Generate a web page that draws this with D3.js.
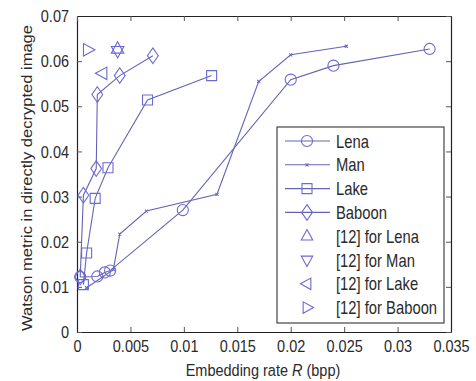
<!DOCTYPE html>
<html>
<head>
<meta charset="utf-8">
<script src="https://cdn.jsdelivr.net/npm/d3@7"></script>
<style>
  body { margin: 0; background: #fff; }
  text { font-family: "Liberation Sans", Arial, sans-serif; fill: #2a2a2a; }
  /* the source picture is stretched a little in height */
  .tall { transform-box: fill-box; transform-origin: center; transform: scaleY(1.2); }
  .long { transform-box: fill-box; transform-origin: center; transform: scaleX(1.14); }
</style>
</head>
<body>
<svg width="476" height="381"></svg>
<script>
// series
const lenaX = [0.0003, 0.0019, 0.0026, 0.0031, 0.0099, 0.02, 0.024, 0.033];
const lenaY = [0.0122, 0.0123, 0.0132, 0.0136, 0.0270, 0.0559, 0.0590, 0.0627];
const manX = [0.0009, 0.0034, 0.0040, 0.0065, 0.0131, 0.0170, 0.0200, 0.0252];
const manY = [0.0098, 0.0138, 0.0217, 0.0268, 0.0305, 0.0555, 0.0614, 0.0633];
const lakeX = [0.0006, 0.0009, 0.0017, 0.0029, 0.0066, 0.0126];
const lakeY = [0.0105, 0.0175, 0.0296, 0.0364, 0.0514, 0.0568];
const baboonX = [0.0003, 0.0006, 0.0018, 0.0019, 0.0040, 0.0071];
const baboonY = [0.0122, 0.0303, 0.0362, 0.0526, 0.0568, 0.0612];
// single points from [12]
const refX = [0.0038, 0.0038, 0.0024, 0.0010];
const refY = [0.0627, 0.0623, 0.0573, 0.0625];

const legendNames = ["Lena", "Man", "Lake", "Baboon",
  "[12] for Lena", "[12] for Man", "[12] for Lake", "[12] for Baboon"];
const xTicks = [0, 0.005, 0.01, 0.015, 0.02, 0.025, 0.03, 0.035];
const yTicks = [0, 0.01, 0.02, 0.03, 0.04, 0.05, 0.06, 0.07];

const margin = {top: 16, left: 77, right: 25, bottom: 49},
    width = 476 - margin.left - margin.right,
    height = 381 - margin.top - margin.bottom;

const lineCol = "#6464b4", markCol = "#6a6ad2";

const svg = d3.select("svg");
const g = svg.append("g").attr("transform", "translate(" + margin.left + "," + margin.top + ")");

const x = d3.scaleLinear().domain([0, 0.035]).range([0, width]);
const y = d3.scaleLinear().domain([0, 0.07]).range([height, 0]);

// axes, matlab style with inward ticks and a full box
const fmt = d => d === 0 ? "0" : d3.format("")(+d.toFixed(3));
g.append("g").attr("transform", "translate(0," + height + ")")
  .call(d3.axisBottom(x).tickValues(xTicks).tickSizeInner(-5).tickSizeOuter(0).tickPadding(9).tickFormat(fmt));
g.append("g")
  .call(d3.axisLeft(y).tickValues(yTicks).tickSizeInner(-5).tickSizeOuter(0).tickPadding(8).tickFormat(fmt));
g.append("g")
  .call(d3.axisTop(x).tickValues(xTicks).tickSizeInner(-5).tickSizeOuter(0).tickFormat(""));
g.append("g").attr("transform", "translate(" + width + ",0)")
  .call(d3.axisRight(y).tickValues(yTicks).tickSizeInner(-5).tickSizeOuter(0).tickFormat(""));
g.selectAll(".domain").attr("stroke", "#222").attr("stroke-width", 1.2);
g.selectAll(".tick line").attr("stroke", "#555");
g.selectAll(".tick text").attr("font-size", 14.5).attr("fill", "#2a2a2a")
  .attr("class", "tall")
  .attr("font-family", "Liberation Sans, Arial, sans-serif");

svg.append("text").attr("class", "tall")
  .attr("x", 263).attr("y", 375)
  .attr("text-anchor", "middle").attr("font-size", 14.5)
  .html('Embedding rate <tspan font-style="italic">R</tspan> (bpp)');
svg.append("g")
  .attr("transform", "translate(32,178) rotate(-90)")
  .append("text").attr("class", "long")
  .attr("text-anchor", "middle").attr("font-size", 14.5)
  .text("Watson metric in directly decrypted image");

// marker shapes
function marker(sel, kind, size) {
  const s = size;
  let d;
  if (kind === "circle") d = d3.symbol(d3.symbolCircle, s * s * 0.8)();
  else if (kind === "square") d = "M" + (-s/2) + "," + (-s/2) + "h" + s + "v" + s + "h" + (-s) + "Z";
  else if (kind === "diamond") d = "M0," + (-s*0.65) + "L" + (s*0.45) + ",0L0," + (s*0.65) + "L" + (-s*0.45) + ",0Z";
  else if (kind === "x") d = "M-1.5,-1.5L1.5,1.5M-1.5,1.5L1.5,-1.5";
  else if (kind === "up") d = "M0," + (-s*0.6) + "L" + (s*0.52) + "," + (s*0.35) + "L" + (-s*0.52) + "," + (s*0.35) + "Z";
  else if (kind === "down") d = "M0," + (s*0.6) + "L" + (s*0.52) + "," + (-s*0.35) + "L" + (-s*0.52) + "," + (-s*0.35) + "Z";
  else if (kind === "left") d = "M" + (-s*0.6) + ",0L" + (s*0.35) + "," + (-s*0.52) + "L" + (s*0.35) + "," + (s*0.52) + "Z";
  else d = "M" + (s*0.6) + ",0L" + (-s*0.35) + "," + (-s*0.52) + "L" + (-s*0.35) + "," + (s*0.52) + "Z";
  sel.append("path").attr("d", d).attr("fill", "none").attr("stroke", markCol).attr("stroke-width", 1.1);
}

const series = [
  {xs: lenaX, ys: lenaY, kind: "circle", size: 11},
  {xs: manX, ys: manY, kind: "x", size: 4},
  {xs: lakeX, ys: lakeY, kind: "square", size: 10},
  {xs: baboonX, ys: baboonY, kind: "diamond", size: 12}
];
const line = d3.line().x(d => x(d[0])).y(d => y(d[1]));
series.forEach(s => {
  const pts = s.xs.map((v, i) => [v, s.ys[i]]);
  g.append("path").datum(pts).attr("d", line)
    .attr("fill", "none").attr("stroke", lineCol).attr("stroke-width", 1.1);
  g.selectAll(null).data(pts).enter().append("g")
    .attr("transform", d => "translate(" + x(d[0]) + "," + y(d[1]) + ")")
    .each(function() { marker(d3.select(this), s.kind, s.size); });
});
const refKinds = ["up", "down", "left", "right"];
refX.forEach((v, i) => {
  const m = g.append("g").attr("transform", "translate(" + x(v) + "," + y(refY[i]) + ")");
  marker(m, refKinds[i], 12);
});

// legend
const lg = svg.append("g").attr("transform", "translate(277,127)");
lg.append("rect").attr("width", 167).attr("height", 196)
  .attr("fill", "#fff").attr("stroke", "#444").attr("stroke-width", 1.2);
const kinds = ["circle", "x", "square", "diamond", "up", "down", "left", "right"];
const sizes = [11, 4, 10, 12, 11, 11, 11, 11];
legendNames.forEach((name, i) => {
  const ly = 14 + i * 23.8;
  if (i < 4) {
    lg.append("line").attr("x1", 8).attr("x2", 53).attr("y1", ly).attr("y2", ly)
      .attr("stroke", lineCol).attr("stroke-width", 1.1);
  }
  const m = lg.append("g").attr("transform", "translate(30," + ly + ")");
  marker(m, kinds[i], sizes[i]);
  lg.append("text").attr("class", "tall").attr("x", 59).attr("y", ly + 5.5)
    .attr("font-size", 14.8).text(name);
});
</script>
</body>
</html>
